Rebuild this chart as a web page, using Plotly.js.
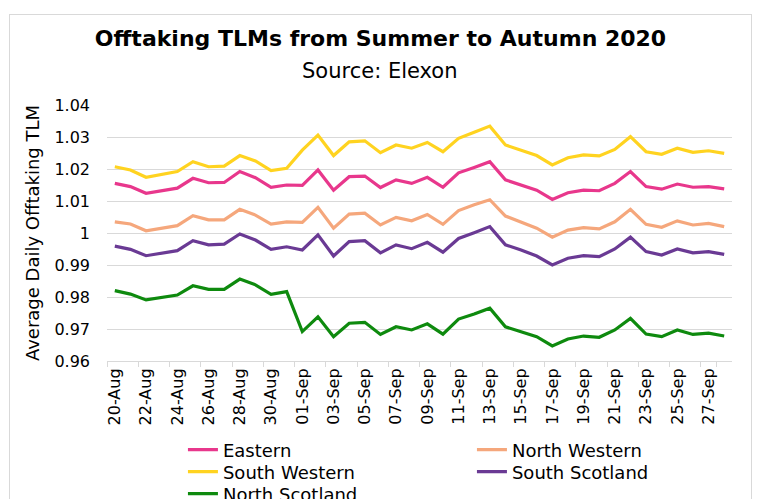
<!DOCTYPE html>
<html>
<head>
<meta charset="utf-8">
<script src="https://cdn.plot.ly/plotly-3.0.1.min.js"></script>
<style>
html,body{margin:0;padding:0;background:#fff;}
#wrap{position:relative;width:758px;height:499px;overflow:hidden;}
#chart{position:absolute;left:0;top:0;width:758px;height:499px;}
#frame{position:absolute;left:9px;top:14px;width:741px;height:520px;border:1px solid #d9d9d9;pointer-events:none;}
</style>
</head>
<body>
<div id="wrap"><div id="chart"></div><div id="frame"></div></div>
<script>
const dates = ["20-Aug","21-Aug","22-Aug","23-Aug","24-Aug","25-Aug","26-Aug","27-Aug","28-Aug","29-Aug","30-Aug","31-Aug",
"01-Sep","02-Sep","03-Sep","04-Sep","05-Sep","06-Sep","07-Sep","08-Sep","09-Sep","10-Sep","11-Sep","12-Sep","13-Sep","14-Sep",
"15-Sep","16-Sep","17-Sep","18-Sep","19-Sep","20-Sep","21-Sep","22-Sep","23-Sep","24-Sep","25-Sep","26-Sep","27-Sep","28-Sep"];
const labelDates = ["20-Aug","22-Aug","24-Aug","26-Aug","28-Aug","30-Aug","01-Sep","03-Sep","05-Sep","07-Sep","09-Sep",
"11-Sep","13-Sep","15-Sep","17-Sep","19-Sep","21-Sep","23-Sep","25-Sep","27-Sep"];
const eastern = [1.0155,1.0145,1.0124,1.0131,1.0140,1.0171,1.0157,1.0158,1.0192,1.0173,
1.0143,1.0150,1.0149,1.0197,1.0134,1.0176,1.0178,1.0142,1.0166,1.0155,
1.0174,1.0143,1.0188,1.0205,1.0223,1.0166,1.0150,1.0134,1.0105,1.0126,
1.0134,1.0132,1.0155,1.0192,1.0145,1.0137,1.0153,1.0143,1.0145,1.0138];
const northWestern = [1.0035,1.0028,1.0007,1.0015,1.0023,1.0054,1.0041,1.0041,1.0074,1.0056,
1.0028,1.0035,1.0033,1.0080,1.0015,1.0059,1.0062,1.0025,1.0049,1.0038,
1.0058,1.0027,1.0070,1.0088,1.0104,1.0053,1.0035,1.0015,0.9987,1.0009,
1.0017,1.0013,1.0035,1.0074,1.0027,1.0018,1.0038,1.0025,1.0030,1.0020];
const southWestern = [1.0207,1.0197,1.0174,1.0183,1.0192,1.0223,1.0207,1.0209,1.0242,1.0225,
1.0195,1.0202,1.0259,1.0306,1.0242,1.0285,1.0288,1.0251,1.0275,1.0265,
1.0283,1.0254,1.0296,1.0315,1.0334,1.0275,1.0259,1.0242,1.0213,1.0235,
1.0244,1.0241,1.0261,1.0301,1.0254,1.0246,1.0265,1.0252,1.0257,1.0249];
const southScotland = [0.9959,0.9949,0.9929,0.9937,0.9945,0.9976,0.9963,0.9965,0.9997,0.9978,
0.9949,0.9957,0.9947,0.9994,0.9928,0.9973,0.9976,0.9938,0.9963,0.9951,
0.9971,0.9940,0.9983,1.0001,1.0020,0.9963,0.9947,0.9928,0.9900,0.9921,
0.9929,0.9926,0.9950,0.9987,0.9942,0.9931,0.9950,0.9938,0.9942,0.9933];
const northScotland = [0.9820,0.9809,0.9791,0.9798,0.9806,0.9835,0.9824,0.9824,0.9856,0.9838,
0.9808,0.9817,0.9692,0.9738,0.9676,0.9718,0.9721,0.9683,0.9707,0.9697,
0.9716,0.9684,0.9731,0.9747,0.9765,0.9707,0.9692,0.9676,0.9647,0.9669,
0.9678,0.9674,0.9697,0.9733,0.9684,0.9676,0.9697,0.9683,0.9687,0.9678];
const yTicks = [0.96,0.97,0.98,0.99,1.00,1.01,1.02,1.03,1.04];
const yTickText = ["0.96","0.97","0.98","0.99","1","1.01","1.02","1.03","1.04"];

const seriesNames = ["Eastern","North Western","South Western","South Scotland","North Scotland"];
const seriesData = [eastern, northWestern, southWestern, southScotland, northScotland];
const colors = ["#E8378C","#F5A77C","#FFD320","#6A3A94","#0E8A0E"];
const legendRow = ["legend","legend","legend2","legend2","legend3"];

const traces = seriesNames.map((n,i)=>({
  type:'scatter', mode:'lines', name:n, x:dates, y:seriesData[i],
  line:{color:colors[i], width:3.2}, legend:legendRow[i]
}));

const font = "DejaVu Sans, Tahoma, sans-serif";
function legendAt(rowY){
  return {orientation:'h', x:(183-107)/625.5, xanchor:'left', y:-(rowY-361)/256, yanchor:'middle',
    entrywidth:244, entrywidthmode:'pixels', font:{family:font, size:18, color:'#000'},
    traceorder:'normal', itemwidth:30, bgcolor:'rgba(0,0,0,0)'};
}
const layout = {
  width:758, height:499,
  margin:{l:107, r:25.5, t:105, b:138, autoexpand:false},
  paper_bgcolor:'rgba(0,0,0,0)', plot_bgcolor:'#fff',
  font:{family:font, color:'#000', size:16},
  title:{text:"<b>Offtaking TLMs from Summer to Autumn 2020</b>", font:{family:font, size:22, color:'#000'},
         xref:'container', x:0.502, xanchor:'center', yref:'container', y:1-31/499, yanchor:'top'},
  annotations:[{text:"Source: Elexon", xref:'paper', yref:'paper', x:(380-107)/625.5, y:1+(105-71)/256,
    xanchor:'center', yanchor:'middle', showarrow:false, font:{family:font, size:21, color:'#000'}}],
  xaxis:{type:'category', categoryorder:'array', categoryarray:dates, range:[-0.5,39.5],
    tickmode:'array', tickvals:labelDates, ticktext:labelDates, tickangle:-90,
    tickson:'boundaries', ticks:'outside', ticklen:5, tickcolor:'#d9d9d9', tickwidth:1,
    showgrid:false, showline:true, linecolor:'#d9d9d9', linewidth:1, zeroline:false,
    tickfont:{family:font, size:16, color:'#000'}, fixedrange:true},
  yaxis:{range:[0.96,1.04], tickmode:'array', tickvals:yTicks, ticktext:yTickText,
    showgrid:true, gridcolor:'#d9d9d9', gridwidth:1, zeroline:false, showline:false, ticks:'',
    ticklabelstandoff:16,
    tickfont:{family:font, size:16, color:'#000'},
    title:{text:"Average Daily Offtaking TLM", font:{family:font, size:18, color:'#000'}, standoff:10}},
  showlegend:true,
  legend:legendAt(450),
  legend2:legendAt(472),
  legend3:legendAt(494)
};
Plotly.newPlot('chart', traces, layout, {staticPlot:true, displayModeBar:false});
</script>
</body>
</html>
